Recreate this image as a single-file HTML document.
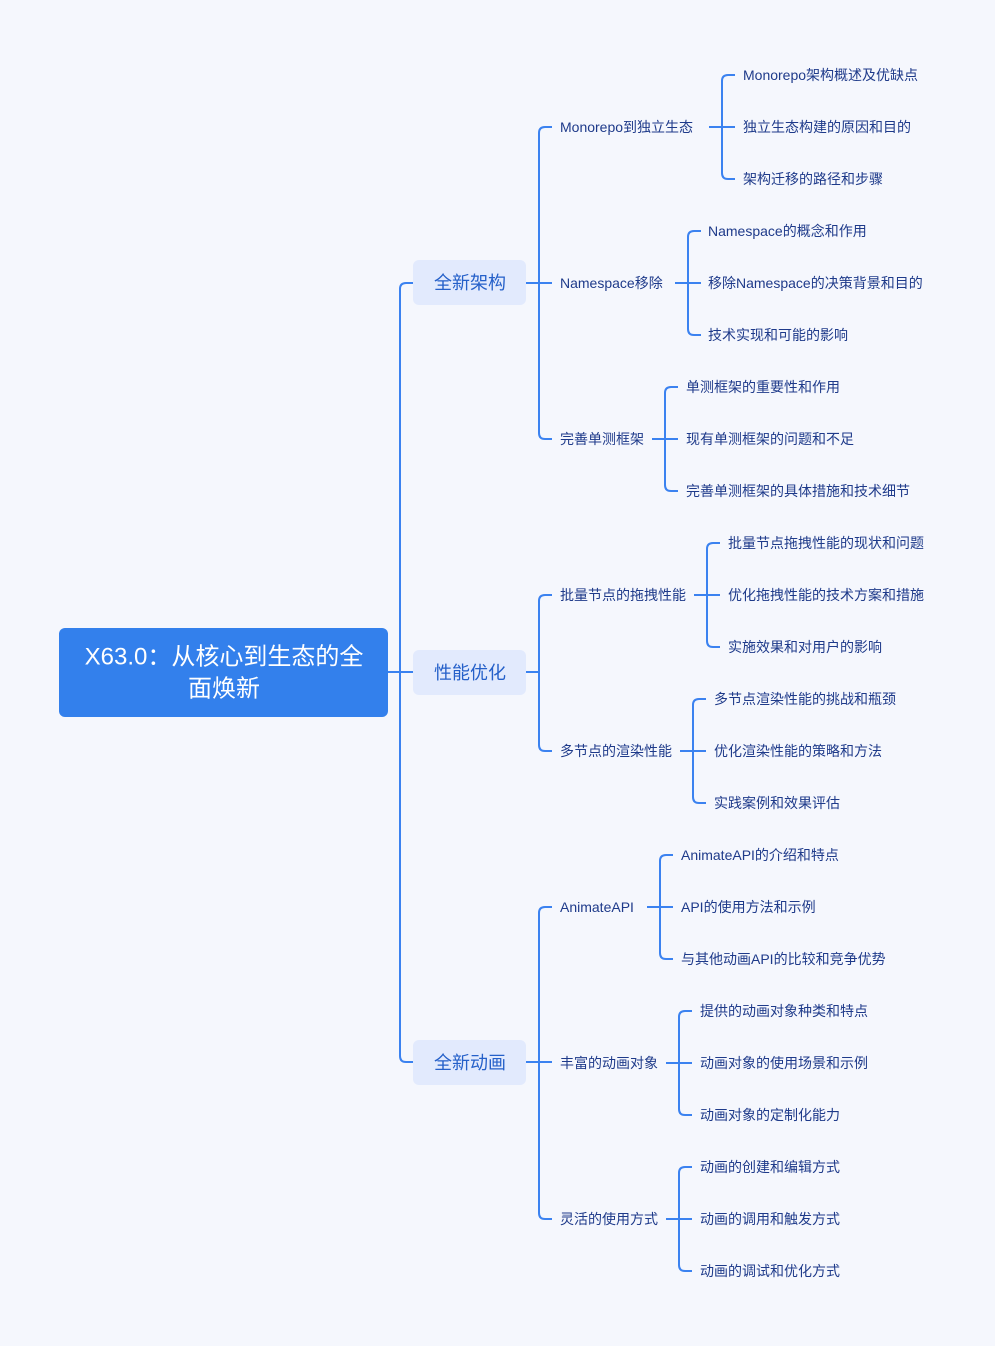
<!DOCTYPE html>
<html><head><meta charset="utf-8"><style>
body{margin:0;background:#f5f7fd;}
svg{display:block;font-family:"Liberation Sans","Noto Sans CJK SC",sans-serif;}
.l{fill:#1e3a8a;font-size:14px;dominant-baseline:central}
.m{fill:#2560c9;font-size:18px;dominant-baseline:central;text-anchor:middle}
</style></head><body>
<svg width="995" height="1346" viewBox="0 0 995 1346">
<rect width="995" height="1346" fill="#f5f7fd"/>
<g fill="none" stroke="#3b82f0" stroke-width="2">
<path d="M388 672H413M413 283H406Q400 283 400 289V1056Q400 1062 406 1062H413"/>
<path d="M526 283H552M552 127H545Q539 127 539 133V433Q539 439 545 439H552"/>
<path d="M526 672H539M552 595H545Q539 595 539 601V745Q539 751 545 751H552"/>
<path d="M526 1062H552M552 907H545Q539 907 539 913V1213Q539 1219 545 1219H552"/>
<path d="M709 127H735M735 75H728Q722 75 722 81V173Q722 179 728 179H735"/>
<path d="M675 283H701M701 231H694Q688 231 688 237V329Q688 335 694 335H701"/>
<path d="M652 439H678M678 387H671Q665 387 665 393V485Q665 491 671 491H678"/>
<path d="M694 595H720M720 543H713Q707 543 707 549V641Q707 647 713 647H720"/>
<path d="M680 751H706M706 699H699Q693 699 693 705V797Q693 803 699 803H706"/>
<path d="M647 907H673M673 855H666Q660 855 660 861V953Q660 959 666 959H673"/>
<path d="M666 1063H692M692 1011H685Q679 1011 679 1017V1109Q679 1115 685 1115H692"/>
<path d="M666 1219H692M692 1167H685Q679 1167 679 1173V1265Q679 1271 685 1271H692"/>
</g>
<rect x="59" y="628" width="329" height="89" rx="6" fill="#3380ec"/>
<text x="224" y="657" fill="#fff" font-size="24" text-anchor="middle" dominant-baseline="central">X63.0：从核心到生态的全</text>
<text x="224" y="689" fill="#fff" font-size="24" text-anchor="middle" dominant-baseline="central">面焕新</text>
<rect x="413" y="260" width="113" height="45" rx="6" fill="#e2eafd"/>
<rect x="413" y="650" width="113" height="45" rx="6" fill="#e2eafd"/>
<rect x="413" y="1040" width="113" height="45" rx="6" fill="#e2eafd"/>
<text class="m" x="470" y="283">全新架构</text>
<text class="m" x="470" y="673">性能优化</text>
<text class="m" x="470" y="1063">全新动画</text>
<text class="l" x="560" y="127">Monorepo到独立生态</text>
<text class="l" x="560" y="283">Namespace移除</text>
<text class="l" x="560" y="439">完善单测框架</text>
<text class="l" x="560" y="595">批量节点的拖拽性能</text>
<text class="l" x="560" y="751">多节点的渲染性能</text>
<text class="l" x="560" y="907">AnimateAPI</text>
<text class="l" x="560" y="1063">丰富的动画对象</text>
<text class="l" x="560" y="1219">灵活的使用方式</text>
<text class="l" x="743" y="75">Monorepo架构概述及优缺点</text>
<text class="l" x="743" y="127">独立生态构建的原因和目的</text>
<text class="l" x="743" y="179">架构迁移的路径和步骤</text>
<text class="l" x="708" y="231">Namespace的概念和作用</text>
<text class="l" x="708" y="283">移除Namespace的决策背景和目的</text>
<text class="l" x="708" y="335">技术实现和可能的影响</text>
<text class="l" x="686" y="387">单测框架的重要性和作用</text>
<text class="l" x="686" y="439">现有单测框架的问题和不足</text>
<text class="l" x="686" y="491">完善单测框架的具体措施和技术细节</text>
<text class="l" x="728" y="543">批量节点拖拽性能的现状和问题</text>
<text class="l" x="728" y="595">优化拖拽性能的技术方案和措施</text>
<text class="l" x="728" y="647">实施效果和对用户的影响</text>
<text class="l" x="714" y="699">多节点渲染性能的挑战和瓶颈</text>
<text class="l" x="714" y="751">优化渲染性能的策略和方法</text>
<text class="l" x="714" y="803">实践案例和效果评估</text>
<text class="l" x="681" y="855">AnimateAPI的介绍和特点</text>
<text class="l" x="681" y="907">API的使用方法和示例</text>
<text class="l" x="681" y="959">与其他动画API的比较和竞争优势</text>
<text class="l" x="700" y="1011">提供的动画对象种类和特点</text>
<text class="l" x="700" y="1063">动画对象的使用场景和示例</text>
<text class="l" x="700" y="1115">动画对象的定制化能力</text>
<text class="l" x="700" y="1167">动画的创建和编辑方式</text>
<text class="l" x="700" y="1219">动画的调用和触发方式</text>
<text class="l" x="700" y="1271">动画的调试和优化方式</text>
</svg>
</body></html>
